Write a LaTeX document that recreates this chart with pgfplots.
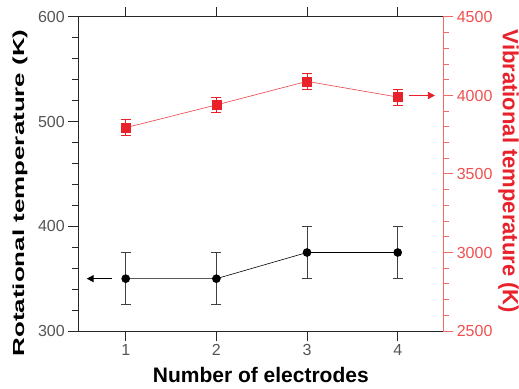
\documentclass[border=0pt]{standalone}
\usepackage{pgfplots}
\pgfplotsset{compat=1.18}
\usepackage{fontspec}
\setmainfont{Liberation Sans}
\usetikzlibrary{arrows.meta}
\definecolor{myred}{HTML}{E8212A}
\definecolor{axred}{HTML}{F06A6A}
\definecolor{tickred}{HTML}{F05050}
\definecolor{tickgray}{HTML}{555555}
\begin{document}
\begin{tikzpicture}
\begin{axis}[
  scale only axis, width=365pt, height=314pt,
  xmin=0.477, xmax=4.503,
  clip=false,
  /pgf/number format/assume math mode=true,
  ymin=300, ymax=600,
  ytick pos=left, xtick pos=both,
  xtick={1,2,3,4}, ytick={300,400,500,600},
  tick align=outside,
  major tick length=10pt,
  every tick/.style={black!85, line width=1pt},
  tick label style={font=\fontsize{16}{19}\selectfont},
  x tick label style={text=tickgray},
  y tick label style={text=tickgray},
  every axis x label/.style={at={(axis description cs:0.5,-0.14)}, anchor=center},
  every axis y label/.style={at={(axis description cs:-0.16,0.44)}, anchor=center, rotate=90},
  xlabel={\fontsize{21}{24}\selectfont\bfseries Number of electrodes},
  ylabel={\fontsize{16}{19}\selectfont\bfseries\scalebox{1.62}[1]{Rotational temperature (K)}},
  axis line style={black!85, line width=1pt},
]
\pgfplotsinvokeforeach{320,340,360,380,420,440,460,480,520,540,560,580}{
  \draw[black!85, line width=1pt] (axis cs:0.477,#1) -- ++(-6pt,0pt);
}
\addplot[black, line width=0.6pt, mark=*, mark size=4pt,
  error bars/.cd, y dir=both, y explicit,
  error bar style={black!75, line width=0.8pt},
  error mark options={rotate=90, mark size=5pt, black!75, line width=0.8pt}]
  coordinates {(1,350) +- (0,25) (2,350) +- (0,25) (3,375) +- (0,25) (4,375) +- (0,25)};
\draw[black, line width=1.6pt, -{Triangle[length=7pt,width=7pt]}] (axis cs:0.845,350) -- (axis cs:0.57,350);
\end{axis}
\begin{axis}[
  scale only axis, width=365pt, height=314pt,
  xmin=0.477, xmax=4.503,
  clip=false,
  /pgf/number format/assume math mode=true,
  /pgf/number format/1000 sep={},
  ymin=2500, ymax=4500,
  axis y line*=right, axis x line=none,
  ytick={2500,3000,3500,4000,4500},
  tick align=outside,
  major tick length=10pt,
  every tick/.style={axred, line width=1pt},
  tick label style={font=\fontsize{16}{19}\selectfont},
  y tick label style={text=tickred},
  axis line style={axred, line width=1pt},
  every axis y label/.style={at={(axis description cs:1.179,0.508)}, anchor=center, rotate=-90},
  ylabel={\fontsize{22}{25}\selectfont\bfseries\color{myred}Vibrational temperature (K)},
]
\pgfplotsinvokeforeach{2600,2700,2800,2900,3100,3200,3300,3400,3600,3700,3800,3900,4100,4200,4300,4400}{
  \draw[axred, line width=1pt] (axis cs:4.503,#1) -- ++(6pt,0pt);
}
\addplot[myred!85, line width=0.6pt, mark=square*, mark size=4.5pt, mark options={myred},
  error bars/.cd, y dir=both, y explicit,
  error bar style={myred, line width=0.8pt},
  error mark options={rotate=90, mark size=5pt, myred, line width=0.8pt}]
  coordinates {(1,3795) +- (0,50) (2,3940) +- (0,50) (3,4090) +- (0,50) (4,3990) +- (0,50)};
\draw[myred, line width=1.6pt, -{Triangle[length=7pt,width=7pt]}] (axis cs:4.128,4000) -- (axis cs:4.411,4000);
\end{axis}
\pgfresetboundingbox
\path (-78.3pt,-57pt) rectangle (440.7pt,331pt);
\end{tikzpicture}
\end{document}
